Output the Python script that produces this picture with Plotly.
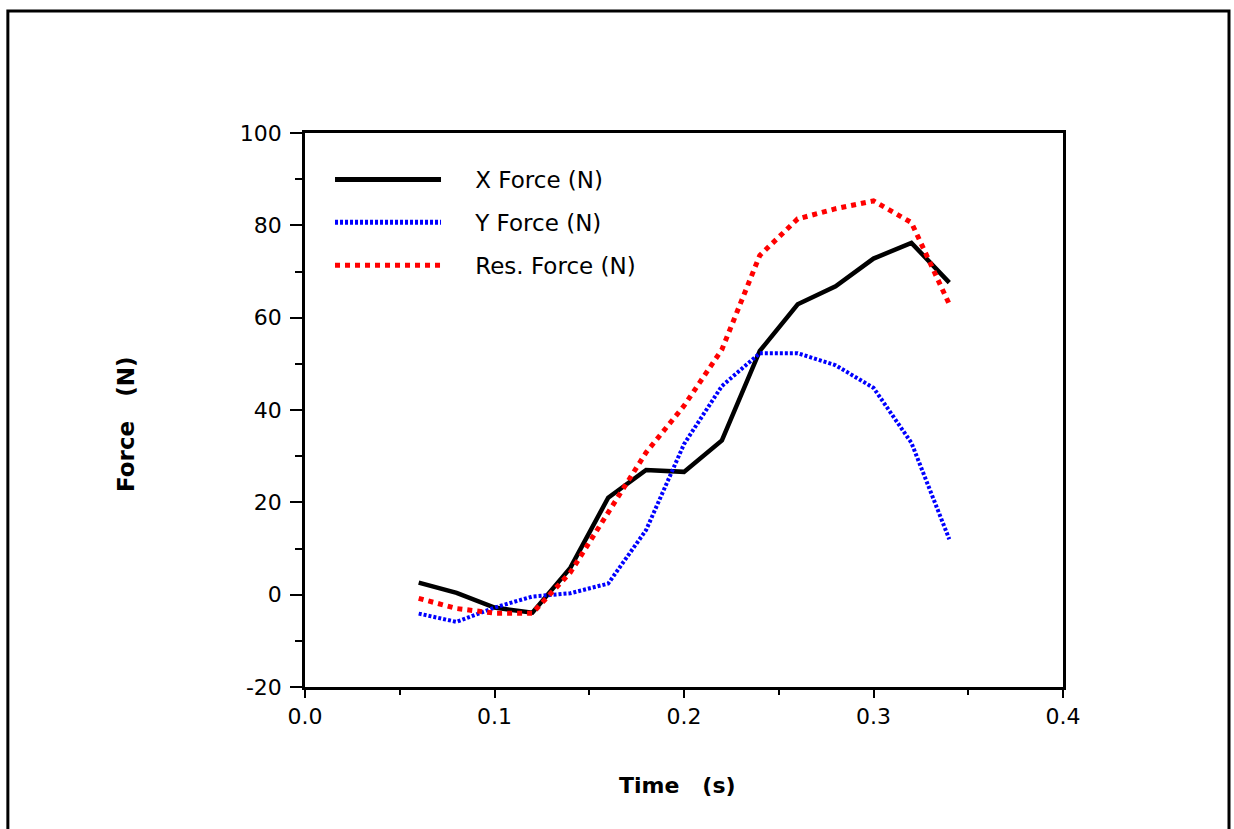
import plotly.graph_objects as go

time_s = [0.06, 0.08, 0.10, 0.12, 0.14, 0.16, 0.18, 0.20, 0.22, 0.24, 0.26, 0.28, 0.30, 0.32, 0.34]
x_force = [2.6, 0.4, -2.8, -3.9, 5.8, 21.0, 27.0, 26.6, 33.4, 52.8, 62.9, 66.8, 72.8, 76.2, 67.6]
y_force = [-4.1, -5.9, -2.8, -0.4, 0.3, 2.4, 14.0, 32.6, 45.2, 52.3, 52.3, 49.7, 44.8, 32.9, 12.0]
res_force = [-0.8, -3.0, -4.0, -4.0, 4.8, 18.0, 30.8, 40.9, 53.1, 73.5, 81.4, 83.6, 85.3, 80.6, 62.9]

series_names = ["X Force (N)", "Y Force (N)", "Res. Force (N)"]
x_ticks = [0.0, 0.1, 0.2, 0.3, 0.4]
x_tick_text = ["0.0", "0.1", "0.2", "0.3", "0.4"]
y_ticks = [-20, 0, 20, 40, 60, 80, 100]
y_tick_text = ["-20", "0", "20", "40", "60", "80", "100"]

FONT = "DejaVu Sans"
PAD = "\u00a0" * 4

fig = go.Figure()
fig.add_trace(go.Scatter(x=time_s, y=x_force, mode="lines", name=PAD + series_names[0],
                         legendgroup="a", line=dict(color="black", width=4.5)))
fig.add_trace(go.Scatter(x=time_s, y=y_force, mode="lines", name=PAD + series_names[1],
                         legendgroup="b", line=dict(color="#0000ff", width=4, dash="3px,2px")))
fig.add_trace(go.Scatter(x=time_s, y=res_force, mode="lines", name=PAD + series_names[2],
                         legendgroup="c", line=dict(color="#ff0000", width=5, dash="5px,5px")))

fig.update_layout(
    width=1234, height=829,
    margin=dict(l=305, r=171, t=133, b=142),
    paper_bgcolor="white", plot_bgcolor="white",
    font=dict(family=FONT, size=20, color="black"),
    showlegend=True,
    legend=dict(x=0.033, y=0.955, xanchor="left", yanchor="top",
                bgcolor="rgba(0,0,0,0)", font=dict(family=FONT, size=23),
                itemwidth=106, tracegroupgap=10, itemsizing="constant"),
    shapes=[dict(type="rect", xref="paper", yref="paper",
                 x0=-0.392, x1=1.219, y0=-0.4, y1=1.220,
                 line=dict(color="black", width=3), fillcolor="rgba(0,0,0,0)",
                 layer="below")],
    annotations=[
        dict(text="<b>Time\u00a0\u00a0\u00a0(s)</b>", xref="paper", yref="paper",
             x=(677 - 305) / 758, y=(687 - 785) / 554, xanchor="center", yanchor="middle",
             showarrow=False, font=dict(family=FONT, size=22)),
        dict(text="<b>Force\u00a0\u00a0\u00a0(N)</b>", xref="paper", yref="paper",
             x=(126 - 305) / 758, y=(687 - 425) / 554, xanchor="center", yanchor="middle",
             textangle=-90, showarrow=False, font=dict(family=FONT, size=23)),
    ],
)

fig.update_xaxes(
    range=[0, 0.4], tickvals=x_ticks, ticktext=x_tick_text,
    showline=True, linecolor="black", linewidth=2.5, mirror=True,
    ticks="outside", ticklen=8, tickwidth=2, tickcolor="black",
    minor=dict(dtick=0.05, ticks="outside", ticklen=5, tickwidth=2, tickcolor="black", showgrid=False),
    showgrid=False, zeroline=False,
    tickfont=dict(family=FONT, size=22),
)
fig.update_yaxes(
    range=[-20, 100], tickvals=y_ticks, ticktext=y_tick_text,
    showline=True, linecolor="black", linewidth=2.5, mirror=True,
    ticks="outside", ticklen=12, tickwidth=2, tickcolor="black",
    minor=dict(dtick=10, ticks="outside", ticklen=7, tickwidth=2, tickcolor="black", showgrid=False),
    showgrid=False, zeroline=False, ticklabelstandoff=4,
    tickfont=dict(family=FONT, size=22),
)

fig.write_html("out.html")
